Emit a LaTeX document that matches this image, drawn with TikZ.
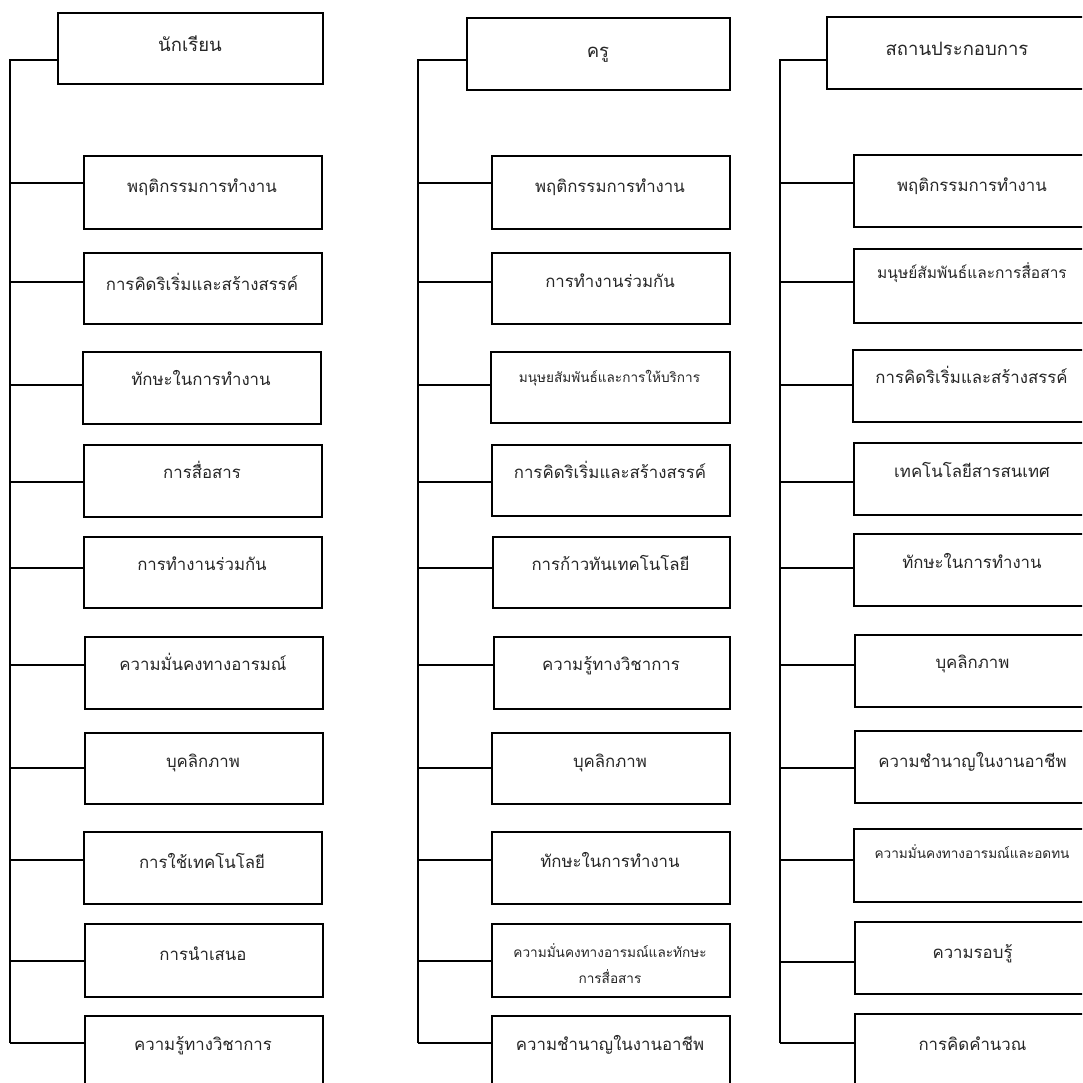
\documentclass[tikz,border=0pt]{standalone}
\usepackage{fontspec}
\setmainfont[Script=Thai]{Loma}
\tikzset{
  boxed/.style={draw=black, line width=1.6pt, anchor=north west, inner sep=0pt, fill=white},
  lbl/.style={anchor=base, inner sep=0pt, text=black!85},
  fmain/.style={font=\fontsize{16.8}{22}\selectfont},
  fmid/.style={font=\fontsize{15.5}{22}\selectfont},
  fsmall/.style={font=\fontsize{13.6}{26}\selectfont},
  fhead/.style={font=\fontsize{18.5}{24}\selectfont},
  wire/.style={draw=black, line width=1.6pt}
}
% #1 name, #2 left, #3 top, #4 right, #5 bottom, #6 connector y, #7 baseline, #8 font style, #9 text
\newcommand\kid[9]{%
  \node[boxed, minimum width={#4-#2}, minimum height={#5-#3}] (#1) at (#2,#3) {};
  \coordinate (#1c) at (#2,#6);
  \node[lbl,#8] (#1t) at ({(#2+#4)/2},#7) {#9};
  \draw[wire] (\curtrunk |- #1c) -- (#1c);
}
\begin{document}
\begin{tikzpicture}[x=1pt,y=-1pt]
\useasboundingbox (0,0) rectangle (1082,1083);
\clip (0,0) rectangle (1082,1083);
\fill[white] (0,0) rectangle (1082,1083);

% ---------- column 1 ----------
\node[boxed, minimum width=265, minimum height=71] (H1) at (57,12) {};
\node[lbl,fhead] (H1t) at (190,52) {นักเรียน};
\coordinate (T1) at (10,60);
\coordinate (T1b) at (10,1043);
\draw[wire] (T1b) -- (T1) -- (T1 -| H1.west);
\def\curtrunk{T1}
\kid{a1}{83}{155}{321}{228}{183}{193}{fmain}{พฤติกรรมการทำงาน}
\kid{a2}{83}{252}{321}{323}{282}{290}{fmain}{การคิดริเริ่มและสร้างสรรค์}
\kid{a3}{82}{351}{320}{423}{385}{385}{fmain}{ทักษะในการทำงาน}
\kid{a4}{83}{444}{321}{516}{482}{478}{fmain}{การสื่อสาร}
\kid{a5}{83}{536}{321}{607}{568}{570}{fmain}{การทำงานร่วมกัน}
\kid{a6}{84}{636}{322}{708}{665}{670}{fmain}{ความมั่นคงทางอารมณ์}
\kid{a7}{84}{732}{322}{803}{768}{767}{fmain}{บุคลิกภาพ}
\kid{a8}{83}{831}{321}{903}{860}{868}{fmain}{การใช้เทคโนโลยี}
\kid{a9}{84}{923}{322}{996}{961}{960}{fmain}{การนำเสนอ}
\kid{a10}{84}{1015}{322}{1110}{1043}{1050}{fmain}{ความรู้ทางวิชาการ}

% ---------- column 2 ----------
\node[boxed, minimum width=263, minimum height=72] (H2) at (466,17) {};
\node[lbl,fhead] (H2t) at (598,58) {ครู};
\coordinate (T2) at (418,60);
\coordinate (T2b) at (418,1043);
\draw[wire] (T2b) -- (T2) -- (T2 -| H2.west);
\def\curtrunk{T2}
\kid{b1}{491}{155}{729}{228}{183}{193}{fmain}{พฤติกรรมการทำงาน}
\kid{b2}{491}{252}{729}{323}{282}{287}{fmain}{การทำงานร่วมกัน}
\kid{b3}{490}{351}{729}{422}{385}{382}{fsmall}{มนุษยสัมพันธ์และการให้บริการ}
\kid{b4}{491}{444}{729}{515}{482}{478}{fmain}{การคิดริเริ่มและสร้างสรรค์}
\kid{b5}{492}{536}{729}{607}{568}{570}{fmain}{การก้าวทันเทคโนโลยี}
\kid{b6}{493}{636}{729}{708}{665}{670}{fmain}{ความรู้ทางวิชาการ}
\kid{b7}{491}{732}{729}{803}{768}{767}{fmain}{บุคลิกภาพ}
\kid{b8}{491}{831}{729}{903}{860}{867}{fmain}{ทักษะในการทำงาน}
\node[boxed, minimum width=238, minimum height=73] (b9) at (491,923) {};
\coordinate (b9c) at (491,961);
\node[lbl,fsmall,align=center,anchor=center] (b9t) at (610,964) {ความมั่นคงทางอารมณ์และทักษะ\\การสื่อสาร};
\draw[wire] (T2 |- b9c) -- (b9c);
\kid{b10}{491}{1015}{729}{1110}{1043}{1050}{fmain}{ความชำนาญในงานอาชีพ}

% ---------- column 3 ----------
\node[boxed, minimum width=262, minimum height=72] (H3) at (826,16) {};
\node[lbl,fhead] (H3t) at (957,56) {สถานประกอบการ};
\coordinate (T3) at (780,60);
\coordinate (T3b) at (780,1043);
\draw[wire] (T3b) -- (T3) -- (T3 -| H3.west);
\def\curtrunk{T3}
\kid{c1}{853}{154}{1091}{226}{183}{192}{fmain}{พฤติกรรมการทำงาน}
\kid{c2}{853}{248}{1091}{322}{282}{278}{fmid}{มนุษย์สัมพันธ์และการสื่อสาร}
\kid{c3}{852}{349}{1091}{421}{385}{383}{fmain}{การคิดริเริ่มและสร้างสรรค์}
\kid{c4}{853}{442}{1091}{514}{482}{477}{fmain}{เทคโนโลยีสารสนเทศ}
\kid{c5}{853}{533}{1091}{605}{568}{568}{fmain}{ทักษะในการทำงาน}
\kid{c6}{854}{634}{1091}{706}{665}{668}{fmain}{บุคลิกภาพ}
\kid{c7}{854}{730}{1091}{802}{768}{767}{fmain}{ความชำนาญในงานอาชีพ}
\kid{c8}{853}{828}{1091}{901}{860}{858}{fsmall}{ความมั่นคงทางอารมณ์และอดทน}
\kid{c9}{854}{921}{1091}{993}{962}{958}{fmain}{ความรอบรู้}
\kid{c10}{854}{1013}{1091}{1110}{1043}{1050}{fmain}{การคิดคำนวณ}
\end{tikzpicture}
\end{document}
